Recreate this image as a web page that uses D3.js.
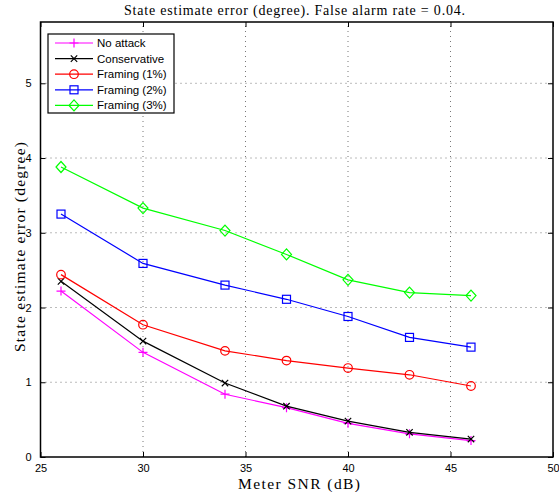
<!DOCTYPE html>
<html lang="en">
<head>
<meta charset="UTF-8">
<script src="https://d3js.org/d3.v7.min.js"></script>
<style>
    body { margin: 0; background: #fff; }
    .tick-label { font-family: "Liberation Sans", Arial, sans-serif; font-size: 11px; }
    .serif { font-family: "Liberation Serif", "DejaVu Serif", serif; }
    .legend text { font-family: "Liberation Sans", Arial, sans-serif; font-size: 11.5px; }
</style>
</head>
<body>
<svg id="chart" width="559" height="492"></svg>
<script>
    // data
    const snr = [26, 30, 34, 37, 40, 43, 46];
    const noAttack     = [2.22, 1.40, 0.84, 0.66, 0.45, 0.31, 0.22];
    const conservative = [2.35, 1.55, 0.99, 0.68, 0.48, 0.33, 0.24];
    const framing1     = [2.44, 1.77, 1.42, 1.29, 1.19, 1.10, 0.95];
    const framing2     = [3.25, 2.59, 2.30, 2.11, 1.88, 1.60, 1.47];
    const framing3     = [3.88, 3.33, 3.03, 2.71, 2.37, 2.20, 2.16];
    const xTicks = [25, 30, 35, 40, 45, 50];
    const yTicks = [0, 1, 2, 3, 4, 5];

    const series = [
        { name: "No attack", values: noAttack, color: "#ff00ff", marker: "plus" },
        { name: "Conservative", values: conservative, color: "#000000", marker: "cross" },
        { name: "Framing (1%)", values: framing1, color: "#ff0000", marker: "circle" },
        { name: "Framing (2%)", values: framing2, color: "#0000ff", marker: "square" },
        { name: "Framing (3%)", values: framing3, color: "#00ff00", marker: "diamond" }
    ];

    const svg = d3.select("#chart");
    const margin = { top: 22, right: 6, bottom: 35, left: 40.5 };
    const W = 559, H = 492;
    const x = d3.scaleLinear().domain([25, 50]).range([margin.left, W - margin.right]);
    const y = d3.scaleLinear().domain([0, 5.82]).range([H - margin.bottom, margin.top]);

    // dotted grid
    const grid = svg.append("g").attr("stroke", "#777").attr("stroke-width", 1)
        .attr("stroke-dasharray", "1,4");
    xTicks.slice(1, -1).forEach(t => {
        grid.append("line").attr("x1", x(t)).attr("x2", x(t))
            .attr("y1", y.range()[0]).attr("y2", y.range()[1]);
    });
    yTicks.slice(1).forEach(t => {
        grid.append("line").attr("x1", x.range()[0]).attr("x2", x.range()[1])
            .attr("y1", y(t)).attr("y2", y(t));
    });

    // axes with ticks pointing inward, on all four sides
    const fmtAxis = g => {
        g.select(".domain").remove();
        g.selectAll("text").attr("class", "tick-label").attr("fill", "#000");
    };
    svg.append("g").attr("transform", `translate(0,${y(0)})`)
        .call(d3.axisBottom(x).tickValues(xTicks).tickFormat(d3.format("d"))
            .tickSizeInner(-5).tickSizeOuter(0).tickPadding(7))
        .call(fmtAxis);
    svg.append("g").attr("transform", `translate(${x(25)},0)`)
        .call(d3.axisLeft(y).tickValues(yTicks).tickFormat(d3.format("d"))
            .tickSizeInner(-5).tickSizeOuter(0).tickPadding(9))
        .call(fmtAxis);
    svg.append("g").attr("transform", `translate(0,${y.range()[1]})`)
        .call(d3.axisTop(x).tickValues(xTicks).tickSizeInner(-5).tickSizeOuter(0).tickFormat(""))
        .call(fmtAxis);
    svg.append("g").attr("transform", `translate(${x(50)},0)`)
        .call(d3.axisRight(y).tickValues(yTicks).tickSizeInner(-5).tickSizeOuter(0).tickFormat(""))
        .call(fmtAxis);

    svg.append("rect")
        .attr("x", x.range()[0]).attr("y", y.range()[1])
        .attr("width", x.range()[1] - x.range()[0])
        .attr("height", y.range()[0] - y.range()[1])
        .attr("fill", "none").attr("stroke", "#000").attr("stroke-width", 1.5);

    function drawMarker(g, type, cx, cy, color) {
        const s = 4.5;
        if (type === "plus") {
            g.append("path").attr("d", `M${cx - s},${cy}H${cx + s}M${cx},${cy - s}V${cy + s}`)
                .attr("stroke", color).attr("fill", "none");
        } else if (type === "cross") {
            const c = 3.2;
            g.append("path").attr("d", `M${cx - c},${cy - c}L${cx + c},${cy + c}M${cx - c},${cy + c}L${cx + c},${cy - c}`)
                .attr("stroke", color).attr("fill", "none");
        } else if (type === "circle") {
            g.append("circle").attr("cx", cx).attr("cy", cy).attr("r", 4.3)
                .attr("stroke", color).attr("fill", "none");
        } else if (type === "square") {
            g.append("rect").attr("x", cx - 4).attr("y", cy - 4).attr("width", 8).attr("height", 8)
                .attr("stroke", color).attr("fill", "none");
        } else if (type === "diamond") {
            g.append("path").attr("d", `M${cx},${cy - 5.5}L${cx + 5},${cy}L${cx},${cy + 5.5}L${cx - 5},${cy}Z`)
                .attr("stroke", color).attr("fill", "none");
        }
    }

    const line = d3.line().x((d, i) => x(snr[i])).y(d => y(d));
    series.forEach(s => {
        const g = svg.append("g").attr("stroke-width", 1.2);
        g.append("path").datum(s.values).attr("d", line)
            .attr("fill", "none").attr("stroke", s.color).attr("stroke-width", 1.2);
        s.values.forEach((v, i) => drawMarker(g, s.marker, x(snr[i]), y(v), s.color));
    });

    // legend
    const legend = svg.append("g").attr("class", "legend");
    legend.append("rect").attr("x", 48).attr("y", 34).attr("width", 126).attr("height", 79)
        .attr("fill", "#fff").attr("stroke", "#000").attr("stroke-width", 1.2);
    series.forEach((s, i) => {
        const ly = 43 + i * 15.6;
        const g = legend.append("g").attr("stroke-width", 1.2);
        g.append("line").attr("x1", 55).attr("x2", 93).attr("y1", ly).attr("y2", ly)
            .attr("stroke", s.color);
        drawMarker(g, s.marker, 74, ly, s.color);
        legend.append("text").attr("x", 97).attr("y", ly + 4).text(s.name);
    });

    // titles (Computer Modern look: wider set, stretched via textLength)
    svg.append("text").attr("class", "serif").attr("x", 294.5).attr("y", 15)
        .attr("text-anchor", "middle").attr("font-size", 14)
        .attr("textLength", 341).attr("lengthAdjust", "spacing")
        .text("State estimate error (degree). False alarm rate = 0.04.");
    svg.append("text").attr("class", "serif").attr("x", 299).attr("y", 489)
        .attr("text-anchor", "middle").attr("font-size", 15.5)
        .attr("textLength", 122).attr("lengthAdjust", "spacing")
        .text("Meter SNR (dB)");
    svg.append("text").attr("class", "serif")
        .attr("transform", "translate(25,247) rotate(-90)")
        .attr("text-anchor", "middle").attr("font-size", 15.5)
        .attr("textLength", 210).attr("lengthAdjust", "spacing")
        .text("State estimate error (degree)");
</script>
</body>
</html>
